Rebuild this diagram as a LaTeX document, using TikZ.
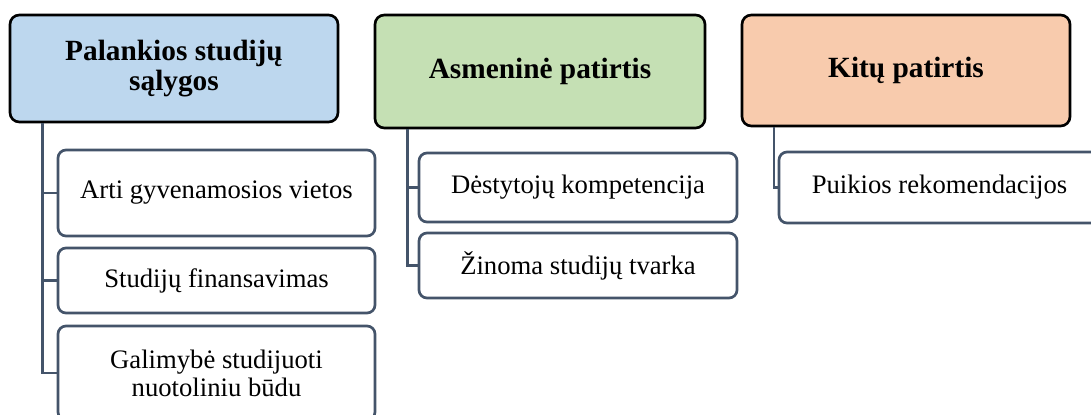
\documentclass[tikz,border=0pt]{standalone}
\usepackage{fontspec}
\setmainfont{Liberation Serif}
\definecolor{hblue}{HTML}{BDD7EE}
\definecolor{hgreen}{HTML}{C5E0B4}
\definecolor{horange}{HTML}{F8CBAD}
\definecolor{slate}{HTML}{44546A}
\begin{document}
\begin{tikzpicture}[x=0.75pt,y=-0.75pt,
  head/.style={draw=black, line width=2pt, rounded corners=7pt, font=\fontsize{22}{23}\selectfont\bfseries, align=center, inner sep=0pt},
  item/.style={draw=slate, line width=2pt, rounded corners=6pt, fill=white, font=\fontsize{20}{21}\selectfont, align=center, inner sep=0pt},
  link/.style={draw=slate, line width=2.2pt}]
\useasboundingbox (0,0) rectangle (1091,414);
\clip (0,0) rectangle (1091,414);
% headers
\node[head, fill=hblue, minimum width=246pt, minimum height=80.25pt] (h1) at (174,68.5) {Palankios studijų\\sąlygos};
\node[head, fill=hgreen, minimum width=247.5pt, minimum height=84.75pt] (h2) at (540,71.5) {Asmeninė patirtis};
\node[head, fill=horange, minimum width=246pt, minimum height=83.25pt] (h3) at (906,70.5) {Kitų patirtis};
% children
\node[item, minimum width=237.75pt, minimum height=64.5pt] (c1) at (216.5,193) {Arti gyvenamosios vietos};
\node[item, minimum width=237.75pt, minimum height=48.75pt] (c2) at (216.5,280.5) {Studijų finansavimas};
\node[item, minimum width=237.75pt, minimum height=70.5pt] (c3) at (216.5,373) {Galimybė studijuoti\\nuotoliniu būdu};
\node[item, minimum width=238.5pt, minimum height=51.75pt] (m1) at (578,187.5) {Dėstytojų kompetencija};
\node[item, minimum width=238.5pt, minimum height=48.75pt] (m2) at (578,265.5) {Žinoma studijų tvarka};
\node[item, minimum width=240.75pt, minimum height=53.25pt] (r1) at (939.5,187.5) {Puikios rekomendacijos};
% trunks
\coordinate (t1) at ([xshift=25.5pt]h1.south west);
\coordinate (t2) at ([xshift=25.5pt]h2.south west);
\coordinate (t3) at ([xshift=25pt]h3.south west);
\draw[link] (t1) |- (c1.west);
\draw[link] (t1) |- (c2.west);
\draw[link] (t1) |- (c3.west);
\draw[link] (t2) |- (m1.west);
\draw[link] (t2) |- (m2.west);
\draw[link] (t3) |- (r1.west);
\end{tikzpicture}
\end{document}
